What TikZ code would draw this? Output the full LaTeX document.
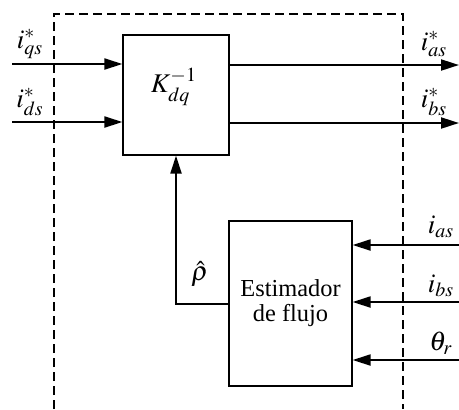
\documentclass[tikz,border=0pt]{standalone}
\usepackage{mathptmx}
\usepackage{fontspec}
\setmainfont{Liberation Serif}
\newfontfamily\blockfont{Liberation Serif}
\usetikzlibrary{arrows.meta}
\begin{document}
\begin{tikzpicture}[x=0.5pt,y=-0.5pt,
  blk/.style={draw,line width=0.6pt,fill=white,inner sep=0pt,font=\blockfont\fontsize{12.2}{13.5}\selectfont,align=center},
  sig/.style={line width=1pt,-{Triangle[length=9pt,width=5.5pt]}},
  lbl/.style={inner sep=0pt,font=\fontsize{13.5}{15}\selectfont},
  frame/.style={line width=1pt,dash pattern=on 4.5pt off 2.5pt}]
\useasboundingbox (0,0) rectangle (459,409);
% dashed boundary, open at the bottom
\draw[frame] (54,409) -- (54,14) -- (403,14) -- (403,409);
% blocks
\node[blk,minimum width=53pt,minimum height=60pt] (kbox) at (176,95) {};
\node[lbl] (ktxt) at (174,87) {$K_{dq}^{-1}$};
\node[blk,minimum width=61.5pt,minimum height=82.5pt] (est) at (290.5,303.5) {Estimador\\[-1pt]de flujo};
% free ends of the signals
\coordinate (iq) at (12,64);
\coordinate (id) at (12,122);
\coordinate (oa) at (459,65);
\coordinate (ob) at (459,123);
\coordinate (ea) at (459,245);
\coordinate (eb) at (459,302);
\coordinate (et) at (459,360);
% connectors
\draw[sig] (iq) -- (iq -| kbox.west);
\draw[sig] (id) -- (id -| kbox.west);
\draw[sig] (oa -| kbox.east) -- (oa);
\draw[sig] (ob -| kbox.east) -- (ob);
\draw[sig] (ea) -- (ea -| est.east);
\draw[sig] (eb) -- (eb -| est.east);
\draw[sig] (et) -- (et -| est.east);
\draw[sig] (est.west) -| (kbox.south);
% signal labels
\node[lbl] (lq) at (30,44) {$i_{qs}^{*}$};
\node[lbl] (ld) at (30,102) {$i_{ds}^{*}$};
\node[lbl] (la) at (434,44) {$i_{as}^{*}$};
\node[lbl] (lb) at (434,102) {$i_{bs}^{*}$};
\node[lbl] (lia) at (441,227) {$i_{as}$};
\node[lbl] (lib) at (441,286) {$i_{bs}$};
\node[lbl] (lth) at (441,343) {$\theta_{r}$};
\node[lbl] (lrho) at (200,274) {$\hat{\rho}$};
\end{tikzpicture}
\end{document}
